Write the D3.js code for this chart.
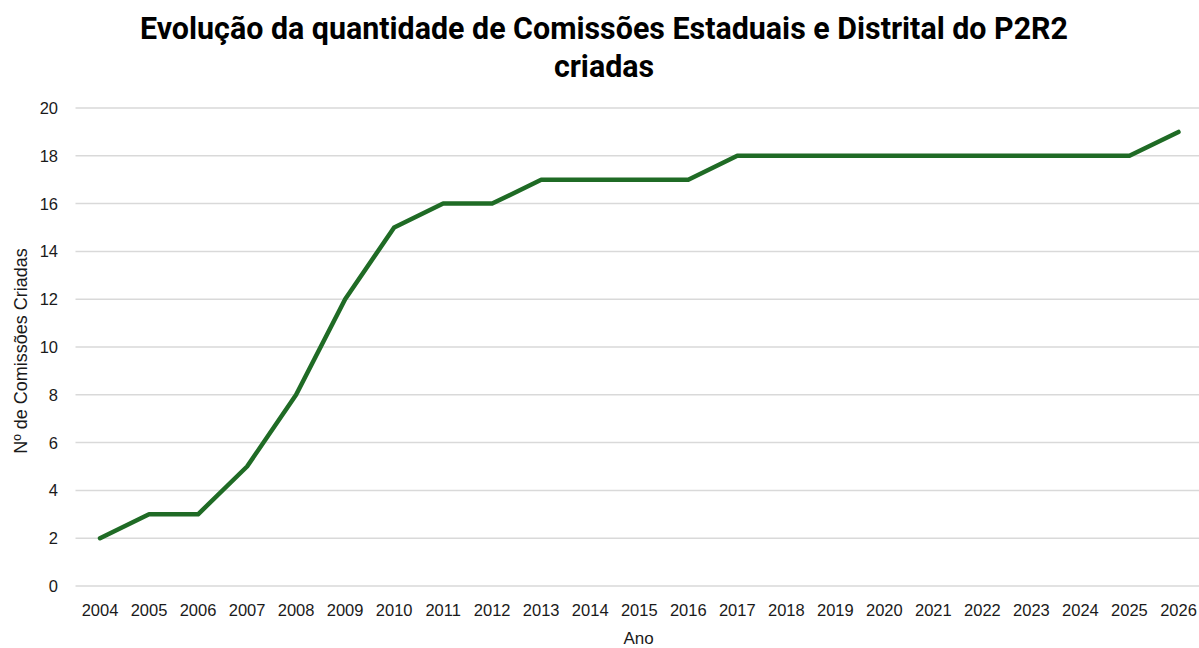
<!DOCTYPE html>
<html>
<head>
<meta charset="utf-8">
<script src="https://cdn.jsdelivr.net/npm/d3@7"></script>
<style>
  html, body { margin: 0; padding: 0; background: #fff; }
  text { font-family: "Liberation Sans", Arial, sans-serif; fill: #1a1a1a; }
</style>
</head>
<body>
<svg id="chart" width="1199" height="648"></svg>
<script>
const years = ['2004','2005','2006','2007','2008','2009','2010','2011','2012','2013','2014','2015',
               '2016','2017','2018','2019','2020','2021','2022','2023','2024','2025','2026'];
const comissoes = [2, 3, 3, 5, 8, 12, 15, 16, 16, 17, 17, 17, 17, 18, 18, 18, 18, 18, 18, 18, 18, 18, 19];
const yTicks = [0, 2, 4, 6, 8, 10, 12, 14, 16, 18, 20];
const titleLines = ['Evolução da quantidade de Comissões Estaduais e Distrital do P2R2', 'criadas'];

const width = 1199, height = 648;
const margin = { top: 108, right: -4, bottom: 62, left: 75.5 };

const svg = d3.select('#chart');

const x = d3.scalePoint()
    .domain(years)
    .range([margin.left, width - margin.right])
    .padding(0.5);

const y = d3.scaleLinear()
    .domain([0, 20])
    .range([height - margin.bottom, margin.top]);

// gridlines
svg.append('g')
    .selectAll('line')
    .data(yTicks)
    .join('line')
        .attr('x1', margin.left)
        .attr('x2', width)
        .attr('y1', d => y(d))
        .attr('y2', d => y(d))
        .attr('stroke', '#d9d9d9')
        .attr('stroke-width', 1.5);

// y tick labels
svg.append('g')
    .selectAll('text')
    .data(yTicks)
    .join('text')
        .attr('x', 58)
        .attr('y', d => y(d))
        .attr('text-anchor', 'end')
        .attr('dominant-baseline', 'central')
        .style('font-size', '16.5px')
        .text(d => d);

// x tick labels
svg.append('g')
    .selectAll('text')
    .data(years)
    .join('text')
        .attr('x', d => x(d))
        .attr('y', 610)
        .attr('text-anchor', 'middle')
        .attr('dominant-baseline', 'central')
        .style('font-size', '16.5px')
        .text(d => d);

// axis titles
svg.append('text')
    .attr('x', 638.5)
    .attr('y', 638)
    .attr('text-anchor', 'middle')
    .attr('dominant-baseline', 'central')
    .style('font-size', '17px')
    .text('Ano');

svg.append('text')
    .attr('transform', `translate(21,351) rotate(-90)`)
    .attr('text-anchor', 'middle')
    .attr('dominant-baseline', 'central')
    .style('font-size', '18px')
    .text('Nº de Comissões Criadas');

// the line
const line = d3.line()
    .x((d, i) => x(years[i]))
    .y(d => y(d));

svg.append('path')
    .datum(comissoes)
    .attr('d', line)
    .attr('fill', 'none')
    .attr('stroke', '#1f6b25')
    .attr('stroke-width', 4.5)
    .attr('stroke-linejoin', 'round')
    .attr('stroke-linecap', 'round');

// title
const title = svg.append('g');
title.selectAll('text')
    .data(titleLines)
    .join('text')
        .attr('x', 604)
        .attr('y', (d, i) => 28 + i * 38)
        .attr('text-anchor', 'middle')
        .attr('dominant-baseline', 'central')
        .style('font-family', '"Liberation Sans Narrow", "Roboto", sans-serif')
        .style('font-weight', 'bold')
        .style('font-size', '31px')
        .style('fill', '#000')
        .text(d => d);

// fit the first line to the reference width (the original face is condensed)
const first = title.select('text').node();
const ratio = 928 / first.getComputedTextLength();
title.selectAll('text').each(function() {
    const w = this.getComputedTextLength();
    d3.select(this).attr('textLength', w * ratio).attr('lengthAdjust', 'spacingAndGlyphs');
});
</script>
</body>
</html>
